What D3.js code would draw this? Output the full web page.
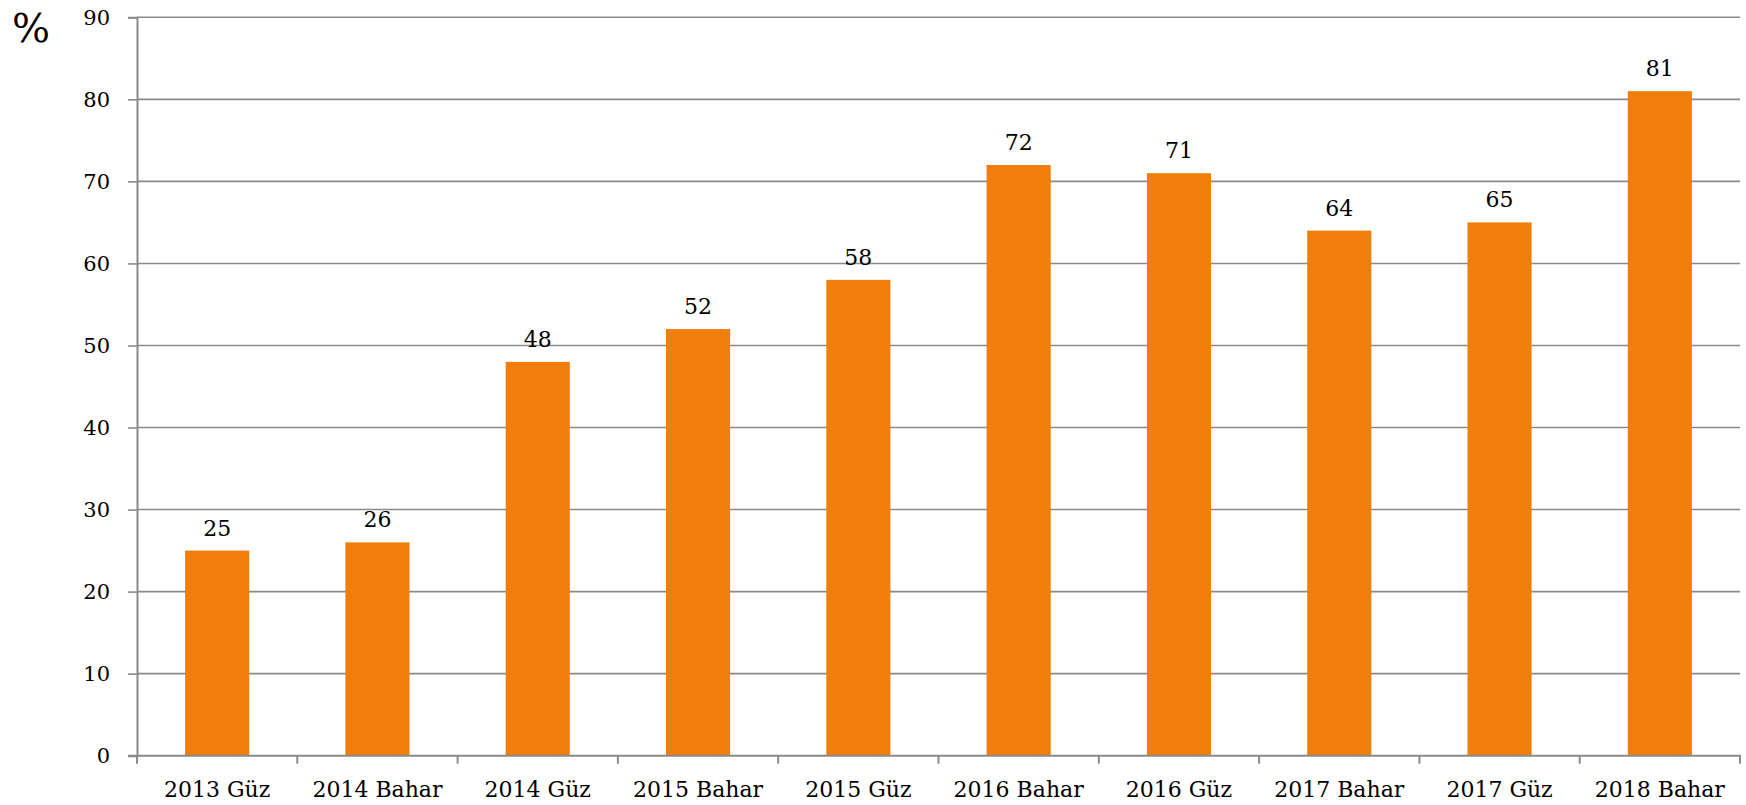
<!DOCTYPE html>
<html>
<head>
<meta charset="utf-8">
<script src="https://cdn.jsdelivr.net/npm/d3@7"></script>
<style>
  html, body { margin: 0; padding: 0; background: #fff; }
  svg { display: block; }
  text { font-family: "DejaVu Serif", Georgia, serif; fill: #000; }
</style>
</head>
<body>
<svg id="chart" width="1746" height="805"></svg>
<script>
const categories = ["2013 Güz", "2014 Bahar", "2014 Güz", "2015 Bahar", "2015 Güz",
                    "2016 Bahar", "2016 Güz", "2017 Bahar", "2017 Güz", "2018 Bahar"];
const values = [25, 26, 48, 52, 58, 72, 71, 64, 65, 81];
const yTicks = [0, 10, 20, 30, 40, 50, 60, 70, 80, 90];
const unitLabel = "%";

(function () {
const svg = d3.select("#chart");
const mLeft = 137, mRight = 1740, mTop = 17.3, mBottom = 755.7;
const gridColor = "#8a8a8a";
const barColor = "#EF7F0A";

const x = d3.scaleBand().domain(categories).range([mLeft, mRight]).paddingInner(0.6).paddingOuter(0.3);
const xb = d3.scaleBand().domain(categories).range([mLeft, mRight]);
const y = d3.scaleLinear().domain([0, 90]).range([mBottom, mTop]);

// gridlines
svg.append("g").selectAll("line").data(yTicks.filter(d => d > 0)).join("line")
  .attr("x1", mLeft).attr("x2", mRight)
  .attr("y1", d => y(d)).attr("y2", d => y(d))
  .attr("stroke", gridColor).attr("stroke-width", 1.6);

// bars
svg.append("g").selectAll("rect").data(values).join("rect")
  .attr("x", (d, i) => x(categories[i]))
  .attr("width", x.bandwidth())
  .attr("y", d => y(d))
  .attr("height", d => y(0) - y(d))
  .attr("fill", barColor);

// value labels
svg.append("g").selectAll("text").data(values).join("text")
  .attr("x", (d, i) => x(categories[i]) + x.bandwidth() / 2)
  .attr("y", d => y(d) - 15)
  .attr("text-anchor", "middle")
  .style("font-size", "22px")
  .text(d => d);

// y axis
const yAxis = d3.axisLeft(y).tickValues(yTicks).tickSize(9).tickPadding(18).tickFormat(d3.format("d"));
const gy = svg.append("g").attr("transform", `translate(${mLeft},0)`).call(yAxis);
gy.select(".domain").attr("stroke", gridColor).attr("stroke-width", 2);
gy.selectAll(".tick line").attr("stroke", gridColor).attr("stroke-width", 1.6);
gy.selectAll(".tick text").style("font-size", "21px").style("font-family", "DejaVu Serif, serif").attr("fill", "#000");

// x axis
const xAxis = d3.axisBottom(xb).tickSize(0).tickPadding(0);
const gx = svg.append("g").attr("transform", `translate(0,${mBottom})`).call(xAxis);
gx.select(".domain").remove();
gx.selectAll(".tick text").style("font-size", "22px").style("font-family", "DejaVu Serif, serif")
  .attr("fill", "#000").attr("dy", null).attr("y", 41);
// x axis line and band ticks
svg.append("line").attr("x1", mLeft - 9).attr("x2", mRight + 1).attr("y1", mBottom).attr("y2", mBottom)
  .attr("stroke", gridColor).attr("stroke-width", 2);
const bounds = categories.map(c => xb(c)).concat([mRight]);
svg.append("g").selectAll("line").data(bounds).join("line")
  .attr("x1", d => d).attr("x2", d => d)
  .attr("y1", mBottom).attr("y2", mBottom + 8)
  .attr("stroke", gridColor).attr("stroke-width", 2);

// unit label
svg.append("text").attr("x", 12).attr("y", 42).style("font-size", "40px").text(unitLabel);
})();
</script>
</body>
</html>
